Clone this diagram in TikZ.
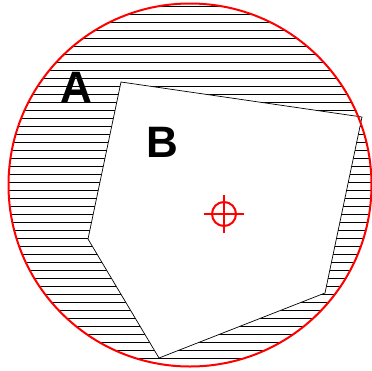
\documentclass[tikz,border=0pt]{standalone}
\usepackage{fontspec}
\setmainfont{Liberation Sans}
\begin{document}
\begin{tikzpicture}[x=1pt,y=-1pt,
  hatchline/.style={black,line width=1pt},
  region/.style={draw=black,line width=0.7pt,fill=white},
  lbl/.style={font=\bfseries\fontsize{44}{44}\selectfont,inner sep=0pt,anchor=base west},
  redline/.style={red,line width=2pt}]
\useasboundingbox (0,0) rectangle (372,370);
\coordinate (c) at (190,185);
\begin{scope}
  \clip (c) circle[radius=182];
  \foreach \k in {0,...,46} {
    \draw[hatchline] (0,{6.7+8*\k}) -- (372,{6.7+8*\k});
  }
\end{scope}
\draw[region] (121,82) coordinate (p1) -- (362,117) coordinate (p2) -- (325,293) coordinate (p3) -- (159,358) coordinate (p4) -- (88,239) coordinate (p5) -- cycle;
\draw[redline] (c) circle[radius=181.5];
\node[lbl] (A) at (60,102.7) {A};
\node[lbl] (B) at (146,157.7) {B};
\coordinate (t) at (224,214);
\draw[redline] (t) circle[radius=12];
\draw[redline] ([xshift=-20pt]t) -- ([xshift=20pt]t);
\draw[redline] ([yshift=-19pt]t) -- ([yshift=19pt]t);
\end{tikzpicture}
\end{document}
